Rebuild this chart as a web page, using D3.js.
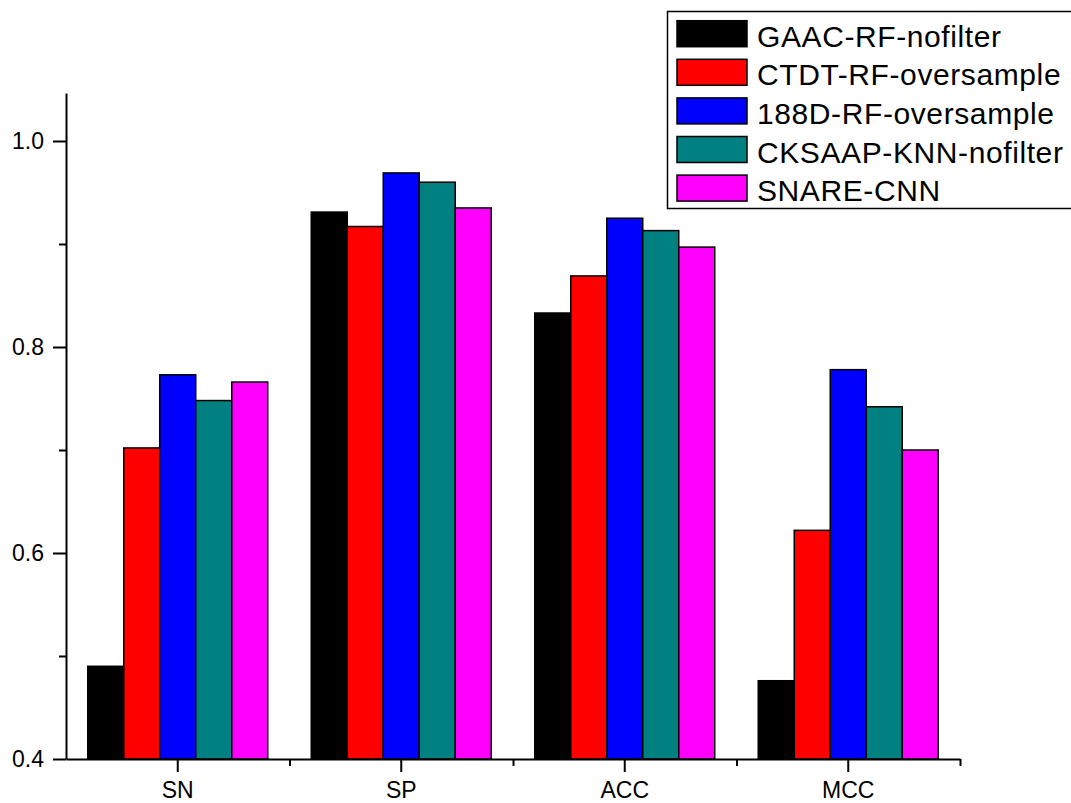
<!DOCTYPE html>
<html>
<head>
<meta charset="utf-8">
<script src="https://cdn.jsdelivr.net/npm/d3@7"></script>
<style>
  html, body { margin: 0; padding: 0; background: #fff; }
  svg { display: block; font-family: "Liberation Sans", Arial, sans-serif; }
</style>
</head>
<body>
<svg id="chart" width="1071" height="803"></svg>
<script>
// Metrics on the x axis
const categories = ["SN", "SP", "ACC", "MCC"];
// Methods compared (one bar per method in each group)
const seriesNames = ["GAAC-RF-nofilter", "CTDT-RF-oversample", "188D-RF-oversample", "CKSAAP-KNN-nofilter", "SNARE-CNN"];
const seriesColors = ["#000000", "#ff0000", "#0000ff", "#008080", "#ff00ff"];
// Scores per method, in category order SN, SP, ACC, MCC
const gaacRF    = [0.490, 0.931, 0.833, 0.476];
const ctdtRF    = [0.702, 0.917, 0.869, 0.622];
const d188RF    = [0.773, 0.969, 0.925, 0.778];
const cksaapKNN = [0.748, 0.960, 0.913, 0.742];
const snareCNN  = [0.766, 0.935, 0.897, 0.700];
const seriesValues = [gaacRF, ctdtRF, d188RF, cksaapKNN, snareCNN];
// Y axis ticks
const yMajorTicks = [0.4, 0.6, 0.8, 1.0];
const yMinorTicks = [0.5, 0.7, 0.9];
const yMin = 0.4, yMax = 1.0466;

const svg = d3.select("#chart");
const plotLeft = 66, plotRight = 960, plotTop = 93, plotBottom = 759;

const x0 = d3.scaleBand().domain(categories).range([plotLeft, plotRight])
  .paddingInner(0.1946).paddingOuter(0.0973);
const x1 = d3.scaleBand().domain(seriesNames).range([0, x0.bandwidth()]).padding(0);
const y = d3.scaleLinear().domain([yMin, yMax]).range([plotBottom, plotTop]);

// Bars
const groups = svg.append("g").selectAll("g")
  .data(categories)
  .join("g")
  .attr("transform", d => `translate(${x0(d)},0)`);

groups.selectAll("rect")
  .data((c, ci) => seriesNames.map((s, si) => ({ s, si, v: seriesValues[si][ci] })))
  .join("rect")
  .attr("x", d => x1(d.s))
  .attr("y", d => y(d.v))
  .attr("width", x1.bandwidth())
  .attr("height", d => y(yMin) - y(d.v))
  .attr("fill", d => seriesColors[d.si])
  .attr("stroke", "#000")
  .attr("stroke-width", 1.5);

// Y axis
const yAxis = svg.append("g").attr("transform", `translate(${plotLeft},0)`)
  .call(d3.axisLeft(y).tickValues(yMajorTicks).tickFormat(d3.format(".1f")).tickSize(13).tickSizeOuter(0));
yAxis.attr("font-size", 23).attr("font-family", "Liberation Sans, Arial, sans-serif");
yAxis.select(".domain").attr("stroke-width", 2);
yAxis.selectAll(".tick line").attr("stroke-width", 2);
yAxis.selectAll(".tick text").attr("fill", "#000").attr("x", -22);
svg.append("g").attr("transform", `translate(${plotLeft},0)`)
  .call(d3.axisLeft(y).tickValues(yMinorTicks).tickFormat("").tickSize(7).tickSizeOuter(0))
  .call(g => g.select(".domain").remove())
  .selectAll(".tick line").attr("stroke-width", 2);

// X axis
const xBoundary = d3.scaleLinear().domain([0, categories.length]).range([plotLeft, plotRight]);
const xAxis = svg.append("g").attr("transform", `translate(0,${plotBottom})`)
  .call(d3.axisBottom(x0).tickSize(13).tickSizeOuter(0));
xAxis.attr("font-size", 23).attr("font-family", "Liberation Sans, Arial, sans-serif");
xAxis.select(".domain").attr("stroke-width", 2);
xAxis.selectAll(".tick line").attr("stroke-width", 2);
xAxis.selectAll(".tick text").attr("fill", "#000").attr("y", 23);
svg.append("g").attr("transform", `translate(0,${plotBottom})`)
  .call(d3.axisBottom(xBoundary).tickValues(d3.range(1, categories.length + 1)).tickFormat("").tickSize(7).tickSizeOuter(0))
  .call(g => g.select(".domain").remove())
  .selectAll(".tick line").attr("stroke-width", 2);

// Legend
const legend = svg.append("g");
legend.append("rect")
  .attr("x", 667.5).attr("y", 11.5).attr("width", 420).attr("height", 197)
  .attr("fill", "#fff").attr("stroke", "#000").attr("stroke-width", 1.5);
const rows = legend.selectAll("g.row")
  .data(seriesNames)
  .join("g").attr("class", "row")
  .attr("transform", (d, i) => `translate(677,${20.7 + i * 38.6})`);
rows.append("rect")
  .attr("width", 70).attr("height", 26)
  .attr("fill", (d, i) => seriesColors[i])
  .attr("stroke", "#000").attr("stroke-width", 1.5);
rows.append("text")
  .attr("x", 80).attr("y", 26)
  .attr("font-size", 30)
  .attr("letter-spacing", 0.6)
  .attr("fill", "#000")
  .text(d => d);
</script>
</body>
</html>
